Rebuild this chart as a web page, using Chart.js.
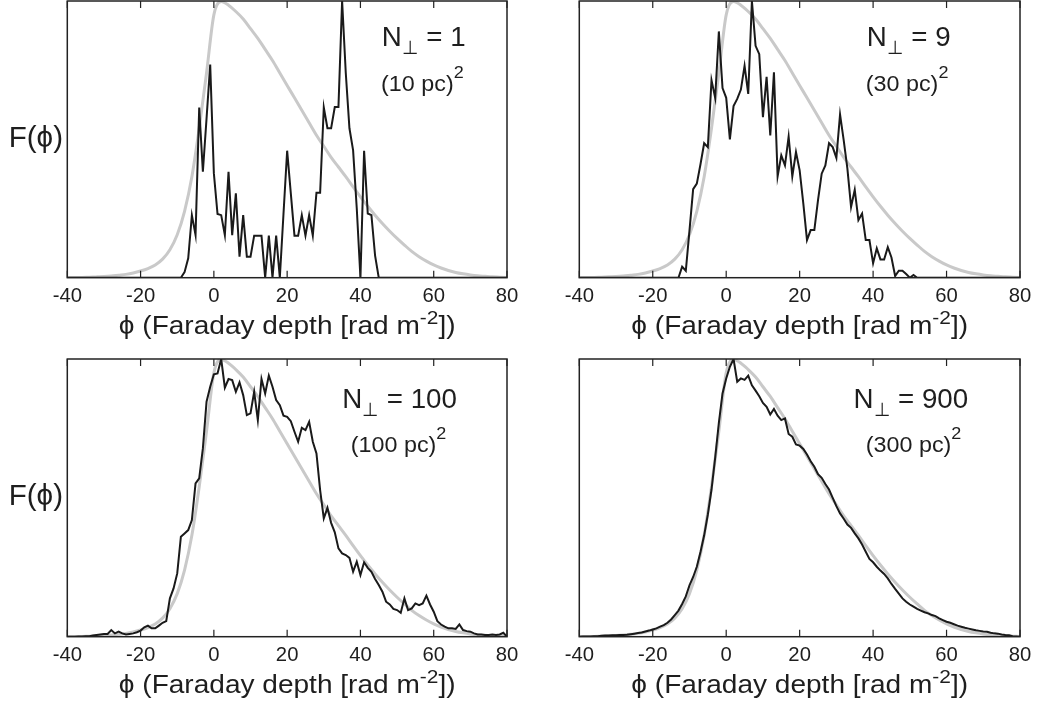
<!DOCTYPE html>
<html>
<head>
<meta charset="utf-8">
<script src="https://cdn.jsdelivr.net/npm/chart.js@4.4.1/dist/chart.umd.min.js"></script>
<style>
  html, body { margin: 0; padding: 0; background: #fff; }
  #quadro { position: relative; width: 1039px; height: 704px; overflow: hidden; }
  canvas { position: absolute; }
</style>
</head>
<body>
<div id="quadro">
  <canvas id="c1" width="519" height="350" style="left:0px;top:0px"></canvas>
  <canvas id="c2" width="520" height="350" style="left:519px;top:0px"></canvas>
  <canvas id="c3" width="519" height="354" style="left:0px;top:350px"></canvas>
  <canvas id="c4" width="520" height="354" style="left:519px;top:350px"></canvas>
</div>
<script>
//eixo x: profundidade de Faraday (passo 1)
const phi = [
  -40, -39, -38, -37, -36, -35, -34, -33, -32, -31,
  -30, -29, -28, -27, -26, -25, -24, -23, -22, -21,
  -20, -19, -18, -17, -16, -15, -14, -13, -12, -11,
  -10, -9, -8, -7, -6, -5, -4, -3, -2, -1,
  0, 1, 2, 3, 4, 5, 6, 7, 8, 9,
  10, 11, 12, 13, 14, 15, 16, 17, 18, 19,
  20, 21, 22, 23, 24, 25, 26, 27, 28, 29,
  30, 31, 32, 33, 34, 35, 36, 37, 38, 39,
  40, 41, 42, 43, 44, 45, 46, 47, 48, 49,
  50, 51, 52, 53, 54, 55, 56, 57, 58, 59,
  60, 61, 62, 63, 64, 65, 66, 67, 68, 69,
  70, 71, 72, 73, 74, 75, 76, 77, 78, 79,
  80
];

//curva cinza (modelo), passo 2
const phiModelo = [
  -40, -38, -36, -34, -32, -30, -28, -26, -24, -22,
  -20, -18, -16, -14, -12, -10, -8, -6, -4, -2,
  0, 2, 4, 6, 8, 10, 12, 14, 16, 18,
  20, 22, 24, 26, 28, 30, 32, 34, 36, 38,
  40, 42, 44, 46, 48, 50, 52, 54, 56, 58,
  60, 62, 64, 66, 68, 70, 72, 74, 76, 78,
  80
];
const modelo = [
  0, 0.001, 0.001, 0.002, 0.003, 0.004, 0.006, 0.009, 0.012, 0.017,
  0.024, 0.033, 0.046, 0.067, 0.101, 0.155, 0.24, 0.365, 0.54, 0.74,
  0.95, 0.998, 0.985, 0.962, 0.935, 0.9, 0.865, 0.825, 0.785, 0.74,
  0.695, 0.65, 0.605, 0.56, 0.515, 0.475, 0.435, 0.4, 0.365, 0.328,
  0.292, 0.258, 0.226, 0.196, 0.168, 0.142, 0.118, 0.095, 0.076, 0.06,
  0.046, 0.035, 0.026, 0.019, 0.014, 0.01, 0.007, 0.005, 0.003, 0.002,
  0.001
];

//N = 1
const fN1 = [
  0, 0, 0, 0, 0, 0, 0, 0, 0, 0,
  0, 0, 0, 0, 0, 0, 0, 0, 0, 0,
  0, 0, 0, 0, 0, 0, 0, 0, 0, 0,
  0, 0, 0.02, 0.07, 0.226, 0.154, 0.615, 0.383, 0.575, 0.77,
  0.377, 0.23, 0.226, 0.154, 0.383, 0.154, 0.305, 0.076, 0.226, 0.076,
  0.076, 0.152, 0.152, 0.152, 0, 0.152, 0, 0.152, 0, 0.23,
  0.459, 0.305, 0.152, 0.152, 0.226, 0.152, 0.226, 0.152, 0.307, 0.307,
  0.615, 0.54, 0.54, 0.617, 0.617, 1.0, 0.74, 0.54, 0.46, 0.25,
  0, 0.459, 0.232, 0.226, 0.08, 0, 0, 0, 0, 0,
  0, 0, 0, 0, 0, 0, 0, 0, 0, 0,
  0, 0, 0, 0, 0, 0, 0, 0, 0, 0,
  0, 0, 0, 0, 0, 0, 0, 0, 0, 0,
  0
];

//N = 9
const fN9 = [
  0, 0, 0, 0, 0, 0, 0, 0, 0, 0,
  0, 0, 0, 0, 0, 0, 0, 0, 0, 0,
  0, 0, 0, 0, 0, 0, 0, 0, 0.04, 0.025,
  0.17, 0.32, 0.34, 0.41, 0.486, 0.472, 0.714, 0.65, 0.89, 0.685,
  0.65, 0.5, 0.62, 0.646, 0.68, 0.766, 0.664, 1.0, 0.838, 0.808,
  0.58, 0.726, 0.514, 0.742, 0.366, 0.442, 0.406, 0.51, 0.366, 0.454,
  0.388, 0.268, 0.136, 0.172, 0.172, 0.28, 0.376, 0.406, 0.486, 0.472,
  0.433, 0.59, 0.496, 0.394, 0.256, 0.318, 0.208, 0.232, 0.136, 0.136,
  0.052, 0.106, 0.066, 0.066, 0.11, 0.073, 0.006, 0.025, 0.025, 0.013,
  0, 0.01, 0, 0, 0, 0, 0, 0, 0, 0,
  0, 0, 0, 0, 0, 0, 0, 0, 0, 0,
  0, 0, 0, 0, 0, 0, 0, 0, 0, 0,
  0
];

//N = 100
const fN100 = [
  0, 0, 0, 0.001, 0.001, 0.002, 0.002, 0.004, 0.006, 0.008,
  0.01, 0.01, 0.024, 0.012, 0.018, 0.012, 0.008, 0.01, 0.012, 0.016,
  0.022, 0.034, 0.04, 0.03, 0.03, 0.04, 0.05, 0.056, 0.138, 0.174,
  0.228, 0.36, 0.372, 0.384, 0.42, 0.552, 0.57, 0.678, 0.846, 0.9,
  0.945, 0.948, 1.0, 0.897, 0.928, 0.924, 0.882, 0.916, 0.87, 0.798,
  0.804, 0.882, 0.78, 0.928, 0.876, 0.94, 0.9, 0.852, 0.834, 0.796,
  0.792, 0.776, 0.738, 0.702, 0.752, 0.744, 0.774, 0.702, 0.66, 0.528,
  0.426, 0.464, 0.41, 0.376, 0.318, 0.3, 0.294, 0.284, 0.234, 0.27,
  0.222, 0.268, 0.248, 0.234, 0.208, 0.186, 0.162, 0.126, 0.116, 0.1,
  0.096, 0.086, 0.138, 0.096, 0.102, 0.12, 0.114, 0.12, 0.148, 0.116,
  0.09, 0.056, 0.044, 0.036, 0.03, 0.03, 0.028, 0.044, 0.024, 0.02,
  0.018, 0.012, 0.008, 0.008, 0.006, 0.006, 0.008, 0.006, 0.008, 0.014,
  0
];

//N = 900
const fN900 = [
  0, 0.001, 0.001, 0.001, 0.002, 0.002, 0.003, 0.004, 0.004, 0.005,
  0.005, 0.006, 0.006, 0.007, 0.009, 0.011, 0.013, 0.015, 0.019, 0.022,
  0.026, 0.03, 0.036, 0.042, 0.05, 0.062, 0.078, 0.094, 0.118, 0.145,
  0.185, 0.215, 0.252, 0.305, 0.365, 0.44, 0.53, 0.645, 0.77, 0.876,
  0.93, 0.972, 1.0, 0.918, 0.93, 0.925, 0.94, 0.905, 0.886, 0.866,
  0.842, 0.828, 0.8, 0.82, 0.796, 0.78, 0.786, 0.73, 0.72, 0.692,
  0.688, 0.676, 0.656, 0.632, 0.612, 0.585, 0.572, 0.55, 0.53, 0.5,
  0.47, 0.444, 0.425, 0.404, 0.392, 0.372, 0.354, 0.332, 0.306, 0.28,
  0.268, 0.252, 0.238, 0.226, 0.21, 0.19, 0.172, 0.155, 0.138, 0.126,
  0.116, 0.108, 0.1, 0.094, 0.088, 0.084, 0.078, 0.074, 0.066, 0.06,
  0.054, 0.05, 0.045, 0.04, 0.036, 0.032, 0.029, 0.026, 0.023, 0.021,
  0.019, 0.018, 0.014, 0.012, 0.011, 0.008, 0.006, 0.005, 0.002, 0.001,
  0
];

//ticks do eixo x
const ticksX = [-40, -20, 0, 20, 40, 60, 80];

//textos de cada painel
const valoresN = ["1", "9", "100", "900"];
const escalas = ["(10 pc)", "(30 pc)", "(100 pc)", "(300 pc)"];

const FONTE = '"Liberation Sans", Arial, Helvetica, sans-serif';
const COR_TEXTO = "#1e1e1e";

//desenha texto com partes (sobrescrito/subscrito) e esticado na horizontal
function textoRico(ctx, partes, x, y, alinhar, esticar) {
  let largura = 0;
  partes.forEach((p) => {
    ctx.font = p[1] + "px " + FONTE;
    largura += ctx.measureText(p[0]).width;
  });
  let x0 = 0;
  if (alinhar === "center") x0 = -largura / 2;
  if (alinhar === "right") x0 = -largura;
  ctx.save();
  ctx.translate(x, y);
  ctx.scale(esticar, 1);
  ctx.textAlign = "left";
  ctx.textBaseline = "alphabetic";
  ctx.fillStyle = COR_TEXTO;
  partes.forEach((p) => {
    ctx.font = p[1] + "px " + FONTE;
    ctx.fillText(p[0], x0, p[2] || 0);
    x0 += ctx.measureText(p[0]).width;
  });
  ctx.restore();
}

//moldura, ticks internos e textos (estilo matlab)
const molduraPlugin = {
  id: "moldura",
  afterDatasetsDraw(chart, args, opts) {
    const ctx = chart.ctx;
    const a = chart.chartArea;
    const eixo = chart.scales.x;

    ctx.save();
    ctx.strokeStyle = "#222";
    ctx.lineWidth = 1.2;
    eixo.ticks.forEach((t) => {
      const px = eixo.getPixelForValue(t.value);
      ctx.beginPath();
      ctx.moveTo(px, a.bottom);
      ctx.lineTo(px, a.bottom - 7);
      ctx.moveTo(px, a.top);
      ctx.lineTo(px, a.top + 7);
      ctx.stroke();
    });
    ctx.lineWidth = 1.5;
    ctx.strokeRect(a.left, a.top, a.right - a.left, a.bottom - a.top);
    ctx.restore();

    //rotulos dos ticks
    eixo.ticks.forEach((t) => {
      const px = eixo.getPixelForValue(t.value);
      textoRico(ctx, [[String(t.value), 19.5]], px, a.bottom + 24.3, "center", 1.04);
    });

    //titulo do eixo x
    const meio = (a.left + a.right) / 2;
    textoRico(
      ctx,
      [["\u03D5 (Faraday depth [rad m", 25.5], ["-2", 19, -10], ["])", 25.5]],
      meio,
      a.bottom + 56,
      "center",
      1.1,
    );

    //rotulo do eixo y
    if (opts.rotuloY) {
      textoRico(ctx, [["F(\u03D5)", 29]], a.left - 4.3, (a.top + a.bottom) / 2 + 7.5, "right", 1.02);
    }

    //anotacoes
    textoRico(
      ctx,
      [["N", 28], ["\u22A5", 19, 8.5], [" = " + opts.n, 28]],
      a.left + opts.posN[0],
      a.top + opts.posN[1] + 0.5,
      "left",
      0.99,
    );
    textoRico(
      ctx,
      [[opts.escala, 22], ["2", 17, -13]],
      a.left + opts.posPc[0],
      a.top + opts.posPc[1] + 0.5,
      "left",
      1.06,
    );
  },
};

//posicao de cada painel
const paineis = [
  { id: "c1", serie: fN1, pad: { left: 67.3, right: 12, top: 1, bottom: 0 }, altX: 72.3, rotuloY: true, posN: [314.5, 44], posPc: [313.8, 89.7] },
  { id: "c2", serie: fN9, pad: { left: 60.3, right: 19, top: 1, bottom: 0 }, altX: 72.3, rotuloY: false, posN: [287.5, 44], posPc: [286.5, 89.7] },
  { id: "c3", serie: fN100, pad: { left: 67.3, right: 12, top: 9, bottom: 0 }, altX: 67.3, rotuloY: true, posN: [274.9, 48.3], posPc: [283.5, 92.7] },
  { id: "c4", serie: fN900, pad: { left: 60.3, right: 19, top: 9, bottom: 0 }, altX: 67.3, rotuloY: false, posN: [274.2, 48.3], posPc: [286.5, 92.7] },
];

function criarGrafico(painel, i) {
  const ctx = document.getElementById(painel.id).getContext("2d");

  const pontos = phi.map((x, k) => ({ x: x, y: painel.serie[k] }));
  const pontosModelo = phiModelo.map((x, k) => ({ x: x, y: modelo[k] }));

  return new Chart(ctx, {
    type: "line",
    data: {
      datasets: [
        {
          data: pontos,
          borderColor: "#1a1a1a",
          borderWidth: 2,
          pointRadius: 0,
          tension: 0,
          order: 1,
        },
        {
          data: pontosModelo,
          borderColor: "#c9c9c9",
          borderWidth: 3,
          pointRadius: 0,
          cubicInterpolationMode: "monotone",
          order: 2,
        },
      ],
    },
    options: {
      responsive: false,
      animation: false,
      devicePixelRatio: 1,
      events: [],
      layout: { padding: painel.pad },
      scales: {
        x: {
          type: "linear",
          min: -40,
          max: 80,
          afterBuildTicks: (s) => {
            s.ticks = ticksX.map((v) => ({ value: v }));
          },
          ticks: { display: false },
          grid: { display: false },
          border: { display: false },
          afterFit: (s) => {
            s.height = painel.altX;
          },
        },
        y: {
          display: false,
          min: 0,
          max: 1,
        },
      },
      plugins: {
        legend: { display: false },
        tooltip: { enabled: false },
        moldura: {
          rotuloY: painel.rotuloY,
          n: valoresN[i],
          escala: escalas[i],
          posN: painel.posN,
          posPc: painel.posPc,
        },
      },
    },
    plugins: [molduraPlugin],
  });
}

paineis.forEach((p, i) => criarGrafico(p, i));
</script>
</body>
</html>
